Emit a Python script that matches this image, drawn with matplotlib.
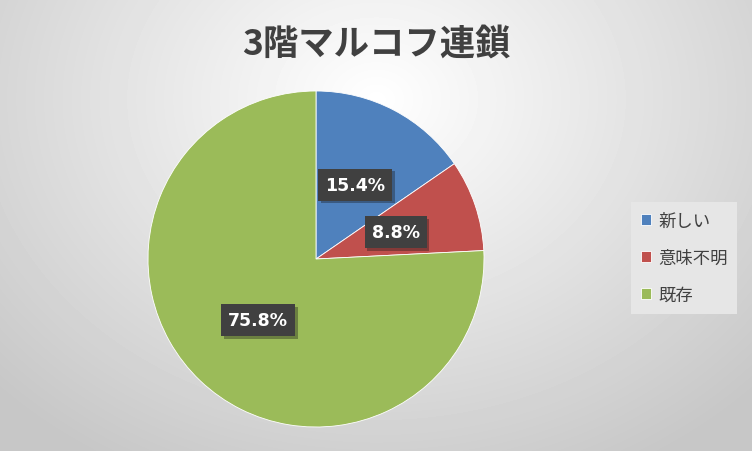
import numpy as np
import matplotlib
matplotlib.use('Agg')
import matplotlib.pyplot as plt
import matplotlib.patheffects as pe

plt.rcParams['font.family'] = ['Noto Sans CJK JP', 'DejaVu Sans']

# データ
labels = ['新しい', '意味不明', '既存']
values = [15.4, 8.8, 75.8]
colors = ['#4f81bd', '#c0504d', '#9bbb59']
title = '3階マルコフ連鎖'

fig = plt.figure(figsize=(7.52, 4.52), dpi=100)

# 背景：放射状グラデーション
bg = fig.add_axes([0, 0, 1, 1])
yy, xx = np.mgrid[0:452, 0:752]
d = np.sqrt(((xx - 376) / 520.0) ** 2 + ((yy - 100) / 420.0) ** 2)
shade = np.clip(1.0 - 0.22 * d, 0.78, 1.0)
bg.imshow(shade, cmap='gray', vmin=0, vmax=1, aspect='auto', extent=[0, 752, 452, 0])
bg.axis('off')

# 円グラフ
ax = fig.add_axes([(316 - 168) / 752, 1 - (260 + 168) / 452, 336 / 752, 336 / 452])
wedges, texts, autotexts = ax.pie(values, colors=colors, startangle=90, counterclock=False,
                                  autopct='%1.1f%%', pctdistance=0.5,
                                  wedgeprops=dict(linewidth=0.6, edgecolor='white'))
for t in autotexts:
    t.set_color('white')
    t.set_fontsize(12.5)
    t.set_fontweight('bold')
    t.set_family(['DejaVu Sans'])
    t.set_bbox(dict(boxstyle='square,pad=0.4', facecolor='#404040', edgecolor='none'))
    t.get_bbox_patch().set_path_effects([pe.SimplePatchShadow(offset=(2, -2), alpha=0.35), pe.Normal()])
ax.set_xlim(-1, 1)
ax.set_ylim(-1, 1)
ax.set_aspect('equal')

# タイトル
fig.text(0.5, 1 - 44 / 452, title, ha='center', va='center', fontsize=25.5,
         fontweight='bold', color='#404040')

# 凡例
leg = fig.legend(wedges, labels, loc='center left', bbox_to_anchor=(628 / 752, 1 - 259 / 452),
                 frameon=True, fontsize=12.5, handlelength=0.6, handleheight=0.6,
                 labelspacing=1.1, borderpad=0.25, handletextpad=0.4)
leg.get_frame().set_facecolor('#e6e6e6')
leg.get_frame().set_edgecolor('none')
leg.get_frame().set_alpha(1)
leg.get_frame().set_boxstyle('square')
for t in leg.get_texts():
    t.set_color('#404040')

fig.savefig('out.png', dpi=100)
